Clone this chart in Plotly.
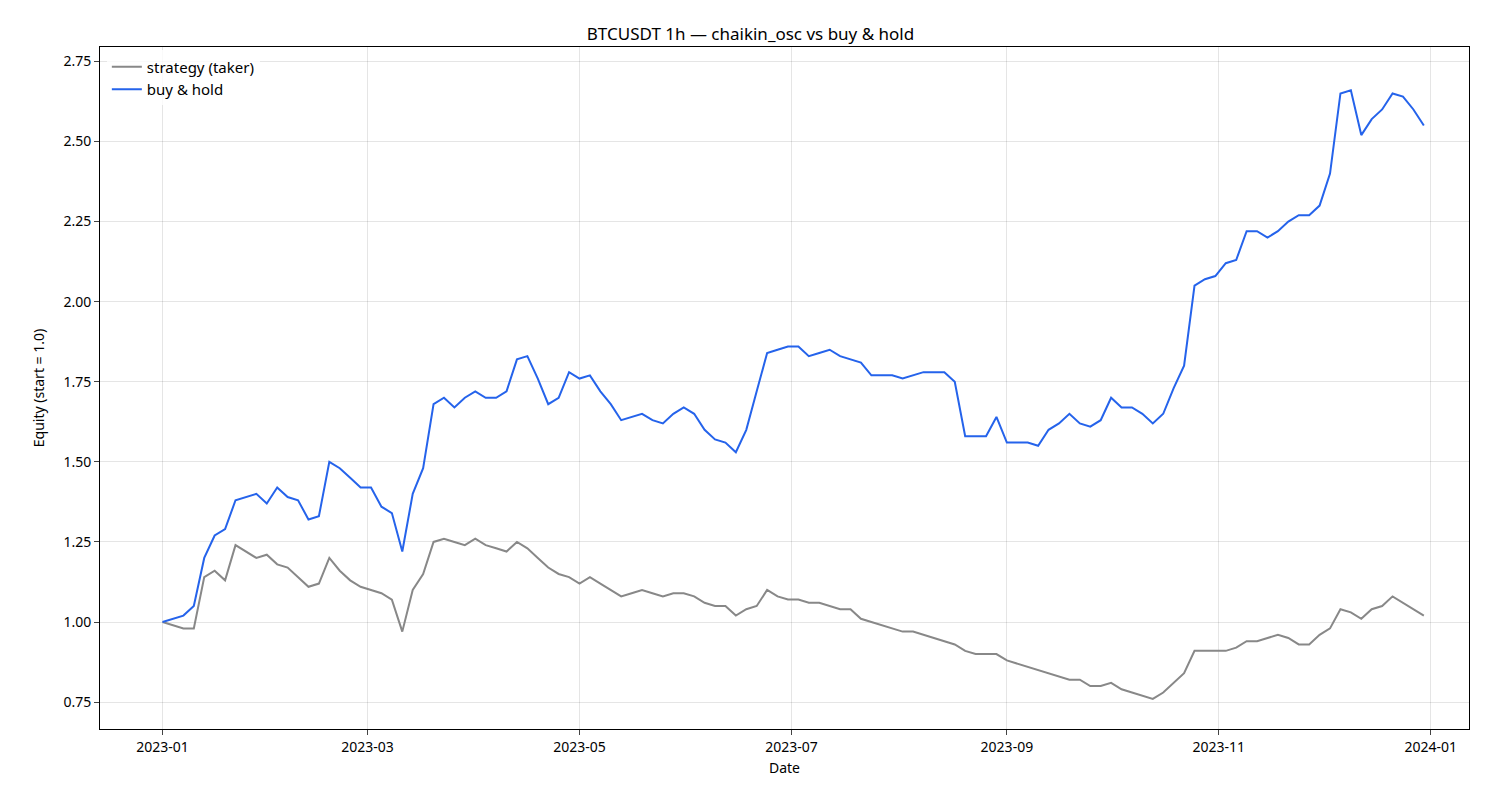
import plotly.graph_objects as go
import pandas as pd

# values every 3 days from 2023-01-01
buy_hold = [1.00, 1.01, 1.02, 1.05, 1.20, 1.27, 1.29, 1.38, 1.39, 1.40, 1.37, 1.42, 1.39, 1.38, 1.32, 1.33,
            1.50, 1.48, 1.45, 1.42, 1.42, 1.36, 1.34, 1.22, 1.40, 1.48, 1.68, 1.70, 1.67, 1.70, 1.72, 1.70,
            1.70, 1.72, 1.82, 1.83, 1.76, 1.68, 1.70, 1.78, 1.76, 1.77, 1.72, 1.68, 1.63, 1.64, 1.65, 1.63,
            1.62, 1.65, 1.67, 1.65, 1.60, 1.57, 1.56, 1.53, 1.60, 1.72, 1.84, 1.85, 1.86, 1.86, 1.83, 1.84,
            1.85, 1.83, 1.82, 1.81, 1.77, 1.77, 1.77, 1.76, 1.77, 1.78, 1.78, 1.78, 1.75, 1.58, 1.58, 1.58,
            1.64, 1.56, 1.56, 1.56, 1.55, 1.60, 1.62, 1.65, 1.62, 1.61, 1.63, 1.70, 1.67, 1.67, 1.65, 1.62,
            1.65, 1.73, 1.80, 2.05, 2.07, 2.08, 2.12, 2.13, 2.22, 2.22, 2.20, 2.22, 2.25, 2.27, 2.27, 2.30,
            2.40, 2.65, 2.66, 2.52, 2.57, 2.60, 2.65, 2.64, 2.60, 2.55]
strategy = [1.00, 0.99, 0.98, 0.98, 1.14, 1.16, 1.13, 1.24, 1.22, 1.20, 1.21, 1.18, 1.17, 1.14, 1.11, 1.12,
            1.20, 1.16, 1.13, 1.11, 1.10, 1.09, 1.07, 0.97, 1.10, 1.15, 1.25, 1.26, 1.25, 1.24, 1.26, 1.24,
            1.23, 1.22, 1.25, 1.23, 1.20, 1.17, 1.15, 1.14, 1.12, 1.14, 1.12, 1.10, 1.08, 1.09, 1.10, 1.09,
            1.08, 1.09, 1.09, 1.08, 1.06, 1.05, 1.05, 1.02, 1.04, 1.05, 1.10, 1.08, 1.07, 1.07, 1.06, 1.06,
            1.05, 1.04, 1.04, 1.01, 1.00, 0.99, 0.98, 0.97, 0.97, 0.96, 0.95, 0.94, 0.93, 0.91, 0.90, 0.90,
            0.90, 0.88, 0.87, 0.86, 0.85, 0.84, 0.83, 0.82, 0.82, 0.80, 0.80, 0.81, 0.79, 0.78, 0.77, 0.76,
            0.78, 0.81, 0.84, 0.91, 0.91, 0.91, 0.91, 0.92, 0.94, 0.94, 0.95, 0.96, 0.95, 0.93, 0.93, 0.96,
            0.98, 1.04, 1.03, 1.01, 1.04, 1.05, 1.08, 1.06, 1.04, 1.02]
dates = pd.date_range("2023-01-01", periods=len(buy_hold), freq="3D")

fig = go.Figure()
fig.add_trace(go.Scatter(x=dates, y=strategy, mode="lines", name="strategy (taker)",
                         line=dict(color="#888888", width=2)))
fig.add_trace(go.Scatter(x=dates, y=buy_hold, mode="lines", name="buy & hold",
                         line=dict(color="#2563eb", width=2)))

axis = dict(showline=True, linecolor="black", mirror=True, ticks="outside", ticklen=5,
            gridcolor="rgba(0,0,0,0.1)", zeroline=False, tickfont=dict(size=14, color="black"))
fig.update_layout(
    width=1485, height=810,
    font=dict(family="Noto Sans", size=14, color="black"),
    title=dict(text="BTCUSDT 1h — chaikin_osc vs buy & hold", x=0.5, xanchor="center",
               y=0.975, font=dict(size=17)),
    plot_bgcolor="white", paper_bgcolor="white",
    margin=dict(l=92, r=24, t=39, b=89),
    xaxis=dict(axis, title=dict(text="Date", standoff=8, font=dict(size=14)),
               range=["2022-12-14", "2024-01-12"],
               tickformat="%Y-%m", dtick="M2", tick0="2023-01-01"),
    yaxis=dict(axis, title=dict(text="Equity (start = 1.0)", font=dict(size=14)),
               range=[0.666, 2.795], dtick=0.25, tickformat=".2f"),
    legend=dict(x=0.005, y=0.995, xanchor="left", yanchor="top", bgcolor="rgba(255,255,255,0.8)",
                font=dict(size=15)),
)
fig.write_html("out.html")
